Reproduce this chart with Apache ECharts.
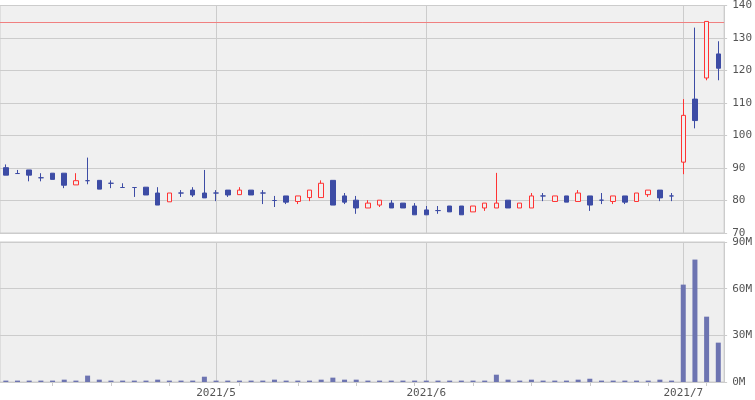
<!DOCTYPE html>
<html>
<head>
<meta charset="utf-8">
<script src="https://cdn.jsdelivr.net/npm/echarts@6/dist/echarts.min.js"></script>
<style>
	html, body { margin: 0; padding: 0; background: #fff; }
	#chart { width: 755px; height: 400px; }
</style>
</head>
<body>
<div id="chart"></div>
<script>
	// trading days
	const dates = [
		'2021/4/6', '2021/4/7', '2021/4/8', '2021/4/9', '2021/4/12', '2021/4/13', '2021/4/14', '2021/4/15', '2021/4/16',
		'2021/4/19', '2021/4/20', '2021/4/21', '2021/4/22', '2021/4/23', '2021/4/26', '2021/4/27', '2021/4/28', '2021/4/30',
		'2021/5/6', '2021/5/7', '2021/5/10', '2021/5/11', '2021/5/12', '2021/5/13', '2021/5/14', '2021/5/17', '2021/5/18',
		'2021/5/19', '2021/5/20', '2021/5/21', '2021/5/24', '2021/5/25', '2021/5/26', '2021/5/27', '2021/5/28', '2021/5/31',
		'2021/6/1', '2021/6/2', '2021/6/3', '2021/6/4', '2021/6/7', '2021/6/8', '2021/6/9', '2021/6/10', '2021/6/11',
		'2021/6/14', '2021/6/15', '2021/6/16', '2021/6/17', '2021/6/18', '2021/6/21', '2021/6/22', '2021/6/23', '2021/6/24',
		'2021/6/25', '2021/6/28', '2021/6/29', '2021/6/30',
		'2021/7/1', '2021/7/2', '2021/7/5', '2021/7/6'
	]
	const opens = [
		90.1, 88.3, 89.4, 87.0, 88.4, 88.4, 84.8, 86.1, 86.2, 85.3, 84.0, 84.0, 84.1, 82.3, 79.6, 82.3, 83.2, 82.3,
		82.3, 83.2, 81.8, 83.2, 82.3, 80.0, 81.4, 79.7, 80.9, 80.9, 86.2, 81.4, 80.1, 77.7, 78.6, 79.2, 79.2, 78.3,
		77.1, 76.9, 78.3, 78.3, 76.5, 77.7, 77.7, 80.1, 77.7, 77.7, 81.4, 79.7, 81.4, 79.7, 81.4, 80.1, 79.7, 81.4,
		79.7, 81.8, 83.2, 81.4, 91.8, 111.2, 117.7, 125.1
	]
	const closes = [
		87.8, 88.3, 87.8, 87.0, 86.5, 84.7, 86.1, 86.1, 83.5, 85.3, 84.0, 84.0, 81.7, 78.6, 82.3, 82.3, 81.7, 80.8,
		82.3, 81.7, 83.2, 81.7, 82.3, 80.0, 79.5, 81.4, 83.2, 85.3, 78.6, 79.5, 77.7, 79.2, 80.1, 77.7, 77.7, 75.6,
		75.6, 76.9, 76.5, 75.6, 78.3, 79.2, 79.2, 77.7, 79.2, 81.4, 81.4, 81.4, 79.5, 82.3, 78.6, 80.1, 81.4, 79.5,
		82.3, 83.2, 80.8, 81.4, 106.2, 104.6, 135.1, 120.7
	]
	const lows = [
		87.8, 88.3, 85.9, 85.9, 86.5, 83.8, 84.8, 85.0, 83.5, 83.8, 84.0, 81.1, 81.7, 78.6, 79.6, 81.1, 81.1, 80.8,
		79.8, 81.1, 81.8, 81.7, 78.9, 78.0, 78.9, 78.9, 79.8, 80.9, 78.6, 78.9, 75.9, 77.7, 78.0, 77.7, 77.7, 75.6,
		75.6, 75.9, 76.5, 75.6, 76.5, 76.8, 77.7, 77.7, 77.7, 77.7, 79.8, 79.7, 79.5, 79.7, 76.8, 78.9, 78.9, 78.9,
		79.7, 81.1, 79.8, 79.8, 88.1, 102.2, 117.0, 117.0
	]
	const highs = [
		91.1, 89.4, 89.4, 88.4, 88.4, 88.4, 88.4, 93.2, 86.2, 86.2, 85.3, 84.0, 84.1, 84.1, 82.3, 83.2, 84.1, 89.4,
		83.2, 83.2, 84.1, 83.2, 83.2, 81.4, 81.4, 81.4, 83.2, 86.2, 86.2, 82.3, 81.4, 80.1, 80.1, 80.1, 79.2, 79.2,
		78.3, 78.3, 78.3, 78.3, 78.3, 79.2, 88.5, 80.1, 79.2, 82.3, 82.3, 81.4, 81.4, 83.2, 81.4, 82.3, 81.4, 81.4,
		82.3, 83.2, 83.2, 82.3, 111.2, 133.2, 135.1, 129.0
	]
	// volume, millions of shares
	const volumes = [
		0.9, 0.9, 0.9, 0.9, 0.9, 1.5, 0.9, 4.1, 1.5, 0.9, 0.9, 0.9, 0.9, 1.5, 0.9, 0.9, 0.9, 3.4,
		0.9, 0.9, 0.9, 0.9, 0.9, 1.5, 0.9, 0.9, 0.9, 1.5, 2.8, 1.5, 1.5, 0.9, 0.9, 0.9, 0.9, 0.9,
		0.9, 0.9, 0.9, 0.9, 0.9, 0.9, 4.7, 1.5, 0.9, 1.5, 0.9, 0.9, 0.9, 1.5, 2.1, 0.9, 0.9, 0.9,
		0.9, 0.9, 1.5, 0.9, 62.6, 78.7, 42.0, 25.3
	]
	const limitLine = 135
	const priceTicks = [70, 140, 10]
	const volumeTicks = [0, 90, 30]

	const upColor = '#ff3333'
	const downColor = '#3d4ca5'
	const gridColor = '#cccccc'
	const labelFont = 'DejaVu Sans Mono'

	const candleData = dates.map((d, i) => [opens[i], closes[i], lows[i], highs[i]])

	// first trading day of each month (not the first day of the data)
	const monthStart = dates.map((d, i) => i > 0 && d.split('/')[1] !== dates[i - 1].split('/')[1])
	const isMonday = dates.map(d => {
		const p = d.split('/')
		return new Date(+p[0], +p[1] - 1, +p[2]).getDay() === 1
	})
	const monthLines = dates.filter((d, i) => monthStart[i]).map(d => ({ xAxis: d }))

	// empty series carrying the vertical month lines, drawn under the marks
	function monthLineSeries(axisIndex, extra) {
		return {
			type: 'line',
			xAxisIndex: axisIndex,
			yAxisIndex: axisIndex,
			z: 1,
			data: [],
			markLine: {
				z: 1,
				silent: true,
				symbol: 'none',
				label: { show: false },
				lineStyle: { color: gridColor, type: 'solid', width: 1 },
				data: monthLines.concat(extra || [])
			}
		}
	}

	const chart = echarts.init(document.getElementById('chart'), null, { renderer: 'canvas' })
	chart.setOption({
		animation: false,
		backgroundColor: '#ffffff',
		grid: [{
			left: 0, right: 30, top: 3, height: 230,
			show: true, backgroundColor: '#f0f0f0', borderColor: gridColor, borderWidth: 1
		}, {
			left: 0, right: 30, top: 242, height: 140,
			show: true, backgroundColor: '#efefef', borderColor: gridColor, borderWidth: 1
		}],
		xAxis: [{
			type: 'category',
			gridIndex: 0,
			data: dates,
			boundaryGap: true,
			axisLine: { show: false },
			axisTick: { show: false },
			axisLabel: { show: false },
			splitLine: { show: false }
		}, {
			type: 'category',
			gridIndex: 1,
			data: dates,
			boundaryGap: true,
			axisLine: { show: true, lineStyle: { color: gridColor } },
			axisTick: {
				show: true,
				alignWithLabel: true,
				length: 4,
				interval: (i) => isMonday[i],
				lineStyle: { color: gridColor }
			},
			axisLabel: {
				interval: (i) => monthStart[i],
				formatter: (v) => v.split('/').slice(0, 2).join('/'),
				color: '#555',
				fontFamily: labelFont,
				fontSize: 11,
				margin: 6
			},
			splitLine: { show: false }
		}],
		yAxis: [{
			type: 'value',
			gridIndex: 0,
			position: 'right',
			min: priceTicks[0],
			max: priceTicks[1],
			interval: priceTicks[2],
			axisLine: { show: true, lineStyle: { color: gridColor } },
			axisTick: { show: true, length: 3, lineStyle: { color: gridColor } },
			axisLabel: { color: '#555', fontFamily: labelFont, fontSize: 11, margin: 8 },
			splitLine: { lineStyle: { color: gridColor } }
		}, {
			type: 'value',
			gridIndex: 1,
			position: 'right',
			min: volumeTicks[0],
			max: volumeTicks[1],
			interval: volumeTicks[2],
			axisLine: { show: true, lineStyle: { color: gridColor } },
			axisTick: { show: true, length: 3, lineStyle: { color: gridColor } },
			axisLabel: {
				color: '#555', fontFamily: labelFont, fontSize: 11, margin: 8,
				formatter: (v) => v + 'M'
			},
			splitLine: { lineStyle: { color: gridColor } }
		}],
		series: [
			monthLineSeries(0, [{ yAxis: limitLine, lineStyle: { color: '#f08080', type: 'solid', width: 1 } }]),
			monthLineSeries(1),
			{
				name: 'price',
				type: 'candlestick',
				xAxisIndex: 0,
				yAxisIndex: 0,
				z: 3,
				barWidth: 5,
				data: candleData,
				itemStyle: {
					color: '#f0f0f0',
					color0: downColor,
					borderColor: upColor,
					borderColor0: downColor,
					borderColorDoji: downColor,
					borderWidth: 1
				}
			}, {
				name: 'volume',
				type: 'bar',
				xAxisIndex: 1,
				yAxisIndex: 1,
				z: 3,
				barWidth: 5,
				data: volumes,
				itemStyle: { color: '#6d74b1' }
			}
		]
	})
</script>
</body>
</html>
